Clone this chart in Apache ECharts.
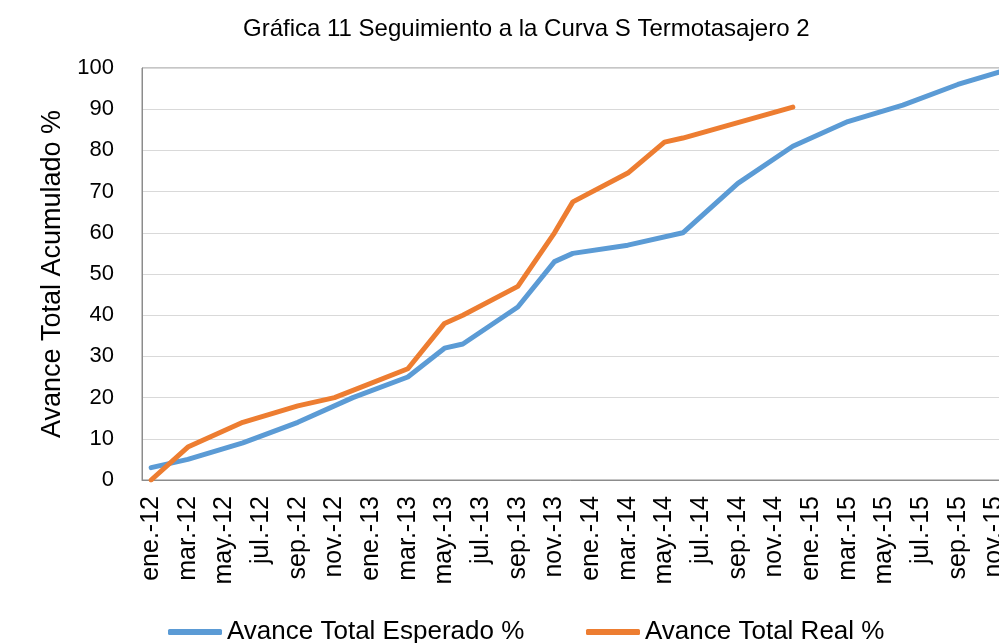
<!DOCTYPE html>
<html>
<head>
<meta charset="utf-8">
<script src="https://cdn.jsdelivr.net/npm/echarts@6/dist/echarts.min.js"></script>
<style>
  html, body { margin: 0; padding: 0; background: #fff; }
  #chart { width: 999px; height: 643px; }
</style>
</head>
<body>
<div id="chart"></div>
<script>
// categorias mensuales ene.-12 ... dic.-15
var meses = ['ene.', 'feb.', 'mar.', 'abr.', 'may.', 'jun.', 'jul.', 'ago.', 'sep.', 'oct.', 'nov.', 'dic.'];
var anios = ['12', '13', '14', '15'];
var categorias = [];
anios.forEach(function (a) {
  meses.forEach(function (m) { categorias.push(m + '-' + a); });
});

// solo los vertices, el resto null (la linea los une)
var esperado = [
  3, null, 5, null, null, 9, null, null, 14, null, null, 20,
  null, null, 25, null, 32, 33, null, null, 42, null, 53, 55,
  null, null, 57, null, null, 60, null, null, 72, null, null, 81,
  null, null, 87, null, null, 91, null, null, 96, null, null, 100
];
var real = [
  0, null, 8, null, null, 14, null, null, 18, null, 20, null,
  null, null, 27, null, 38, 40, null, null, 47, null, 60, 67.5,
  null, null, 74.5, null, 82, 83, null, null, null, null, null, 90.5,
  null, null, null, null, null, null, null, null, null, null, null, null
];

var yTicks = { min: 0, max: 100, interval: 10 };

var chart = echarts.init(document.getElementById('chart'));
chart.setOption({
  animation: false,
  textStyle: { fontFamily: 'Liberation Sans, Arial, sans-serif', color: '#000' },
  title: {
    text: 'Gráfica 11 Seguimiento a la Curva S Termotasajero 2',
    left: 238,
    top: 12,
    textStyle: { fontSize: 24, fontWeight: 'normal', color: '#000' }
  },
  legend: [
    {
      data: ['Avance Total Esperado %'],
      left: 163, top: 614,
      icon: 'roundRect',
      itemWidth: 54, itemHeight: 6,
      textStyle: { fontSize: 26, color: '#000' }
    },
    {
      data: ['Avance Total Real %'],
      left: 581, top: 614,
      icon: 'roundRect',
      itemWidth: 54, itemHeight: 6,
      textStyle: { fontSize: 26, color: '#000' }
    }
  ],
  grid: {
    left: 142, top: 68, width: 880, height: 412,
    outerBoundsMode: 'none',
    containLabel: false,
    show: true, borderColor: '#8c8c8c', borderWidth: 1
  },
  xAxis: {
    type: 'category',
    data: categorias,
    boundaryGap: true,
    axisLine: { lineStyle: { color: '#8c8c8c', width: 1 } },
    axisTick: { interval: 1, length: 6, lineStyle: { color: '#8c8c8c' } },
    axisLabel: { interval: 1, rotate: 90, margin: 16, fontSize: 25, color: '#000' }
  },
  yAxis: {
    type: 'value',
    min: yTicks.min, max: yTicks.max, interval: yTicks.interval,
    name: 'Avance Total Acumulado %',
    nameLocation: 'middle',
    nameGap: 67,
    nameTextStyle: { fontSize: 27, color: '#000' },
    axisLine: { show: true, lineStyle: { color: '#8c8c8c', width: 1 } },
    axisTick: { show: false },
    axisLabel: { margin: 28, fontSize: 22, color: '#000' },
    splitLine: { lineStyle: { color: '#d9d9d9', width: 1 } }
  },
  series: [
    {
      name: 'Avance Total Esperado %',
      type: 'line',
      data: esperado,
      connectNulls: true,
      symbol: 'none',
      lineStyle: { color: '#5b9bd5', width: 5, cap: 'round', join: 'round' },
      itemStyle: { color: '#5b9bd5' }
    },
    {
      name: 'Avance Total Real %',
      type: 'line',
      data: real,
      connectNulls: true,
      symbol: 'none',
      lineStyle: { color: '#ed7d31', width: 5, cap: 'round', join: 'round' },
      itemStyle: { color: '#ed7d31' }
    }
  ]
});
</script>
</body>
</html>
